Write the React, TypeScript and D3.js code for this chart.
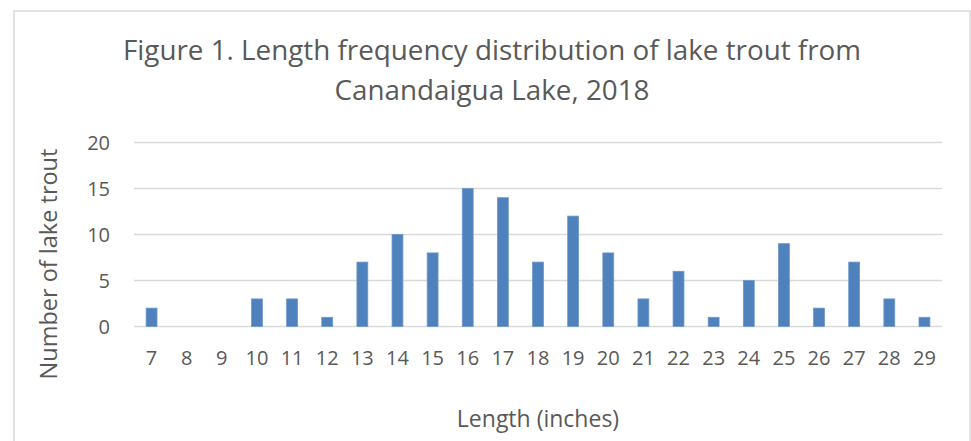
import React from "react";
import * as d3 from "d3";

const lengths = ["7","8","9","10","11","12","13","14","15","16","17","18","19","20","21","22","23","24","25","26","27","28","29"];
const counts = [2,0,0,3,3,1,7,10,8,15,14,7,12,8,3,6,1,5,9,2,7,3,1];
const yTicks = [0,5,10,15,20];
const titleLines = ["Figure 1. Length frequency distribution of lake trout from", "Canandaigua Lake, 2018"];
const xTitle = "Length (inches)";
const yTitle = "Number of lake trout";

const W = 971, H = 441;
const FONT = "'Open Sans', sans-serif";
const TXT = "#595959";

export default function App() {
  const x = d3.scaleBand<string>().domain(lengths).range([134, 942]).paddingInner(0.69).paddingOuter(0.345);
  const y = d3.scaleLinear().domain([0, 20]).range([326.5, 142.5]);
  return (
    <svg width={W} height={H} style={{ position: "absolute", left: 0, top: 0 }}>
      <rect x={0} y={0} width={W} height={H} fill="#fff" />
      <rect x={14} y={11} width={956} height={440} fill="#fff" stroke="#d9d9d9" strokeWidth={1.5} />
      {titleLines.map((t, i) => (
        <text key={i} x={492} y={60 + i * 40} textAnchor="middle" fontFamily={FONT} fontSize={27.8} fill={TXT}>{t}</text>
      ))}
      {yTicks.map(t => (
        <g key={t}>
          <line x1={134} x2={942} y1={y(t)} y2={y(t)} stroke="#d9d9d9" strokeWidth={1.5} />
          <text x={110} y={y(t) + 7} textAnchor="end" fontFamily={FONT} fontSize={20} fill={TXT}>{t}</text>
        </g>
      ))}
      {lengths.map((c, i) => (
        <rect key={c} x={x(c)} y={y(counts[i])} width={x.bandwidth()} height={y(0) - y(counts[i])} fill="#4f81bd" stroke="#6f97cb" strokeWidth={0.8} />
      ))}
      {lengths.map(c => (
        <text key={c} x={(x(c) as number) + x.bandwidth() / 2} y={365} textAnchor="middle" fontFamily={FONT} fontSize={20} fill={TXT}>{c}</text>
      ))}
      <text x={538} y={427} textAnchor="middle" fontFamily={FONT} fontSize={23} fill={TXT}>{xTitle}</text>
      <text transform="translate(57,264) rotate(-90)" textAnchor="middle" fontFamily={FONT} fontSize={23.5} fill={TXT}>{yTitle}</text>
    </svg>
  );
}
